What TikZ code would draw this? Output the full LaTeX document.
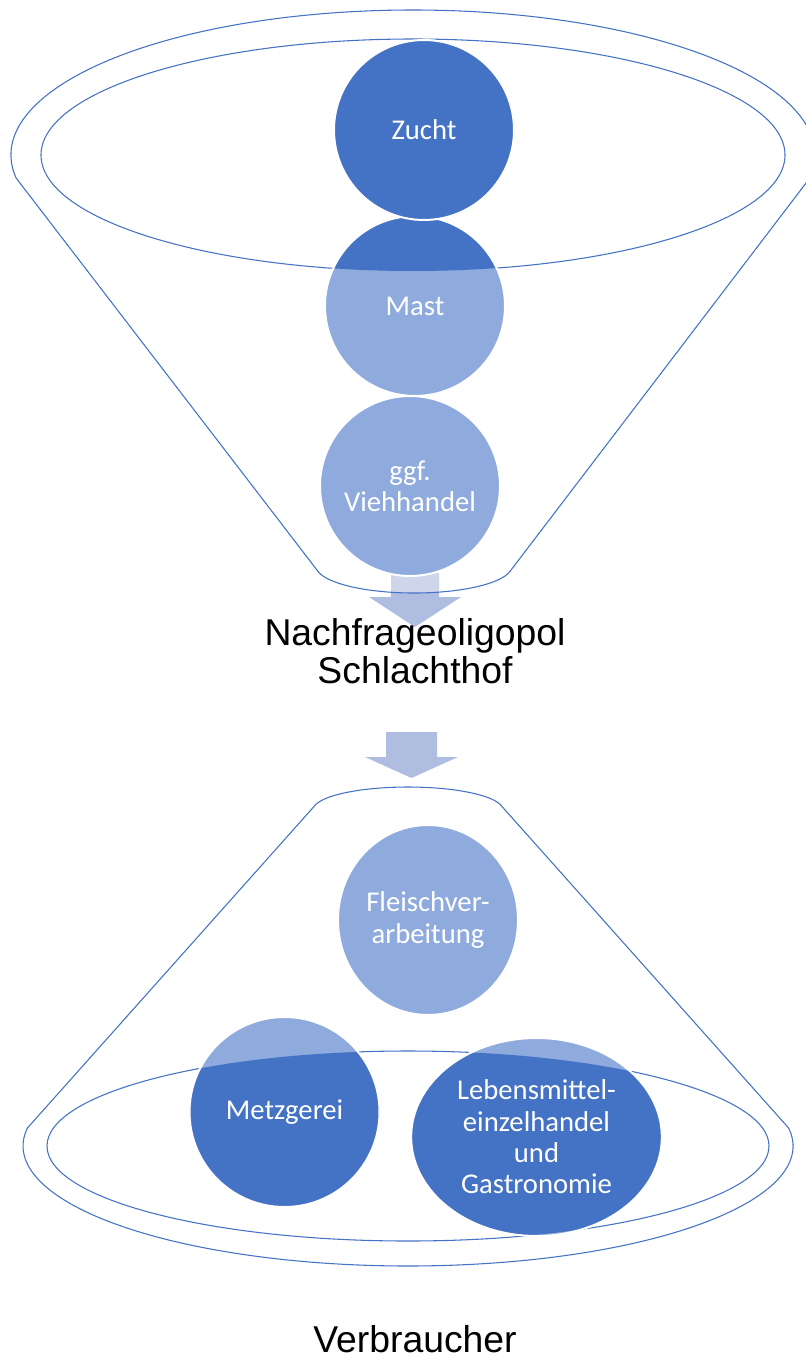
\documentclass[tikz,border=0pt]{standalone}
\usepackage{fontspec}
\setmainfont{Liberation Sans}
\newfontfamily\carlito{Carlito}
\usetikzlibrary{shapes.geometric}

\definecolor{accent}{HTML}{4472C4}
\definecolor{accentlight}{HTML}{8FAADC}
\definecolor{flow}{HTML}{AFBEE0}
\definecolor{flowpale}{HTML}{CFD6EB}

\begin{document}
\begin{tikzpicture}[x=0.75pt, y=-0.75pt,
	rim/.style={draw=accent, line width=0.8pt},
	stage/.style={circle, fill=accentlight, draw=white, line width=1.5pt, text=white,
		font=\carlito\fontsize{21.5}{23.5}\selectfont, align=center, inner sep=0pt, minimum size=135pt},
	toprim/.style={path picture={\fill[accent] (ctop) ellipse[x radius=372, y radius=116];}},
	lowrim/.style={path picture={\fill[accent] (clow) ellipse[x radius=361, y radius=95];}},
	title/.style={font=\fontsize{28}{28.5}\selectfont, align=center, inner sep=0pt}]
	\useasboundingbox (0,0) rectangle (806,1366);
	\fill[white] (0,0) rectangle (806,1366);

	\coordinate (ctop) at (413,155);
	\coordinate (clow) at (408,1146);

	% arrows
	\fill[flow] (391,573) -- (439,573) -- (439,597) -- (461,597) -- (415,627) -- (369,597) -- (391,597) -- cycle;
	\begin{scope}
		\clip (414,566) ellipse[x radius=98, y radius=27];
		\fill[flowpale] (391,573) rectangle (439,597);
	\end{scope}
	\fill[flow] (386,732) -- (437,732) -- (437,757) -- (458,757) -- (411.5,778) -- (365,757) -- (386,757) -- cycle;

	% funnels
	\draw[rim] (16.06,177.93) arc[start angle=170.9, end angle=369.1, x radius=402, y radius=145]
		-- (510.51,570.69) arc[start angle=10, end angle=170, x radius=98, y radius=27] -- cycle;
	\draw[rim] (ctop) ellipse[x radius=372, y radius=116];
	\draw[rim] (314.44,806.01) arc[start angle=190, end angle=350, x radius=95, y radius=23]
		-- (788.67,1128.06) arc[start angle=-8.6, end angle=188.6, x radius=385, y radius=120] -- cycle;
	\draw[rim] (clow) ellipse[x radius=361, y radius=95];

	\node[stage] (vieh) at (410,486) {ggf.\\Viehhandel};
	\node[stage, toprim] (mast) at (415,306) {Mast};
	\node[stage, toprim] (zucht) at (424,130) {Zucht};

	\node[title] (hof) at (415,651) {Nachfrageoligopol\\Schlachthof};

	\node[stage, ellipse, minimum width=135pt, minimum height=142.5pt] (fleisch) at (428,920) {Fleischver-\\arbeitung};
	\node[stage, lowrim, minimum size=142.5pt] (metz) at (284.5,1112) {Metzgerei};
	\node[stage, lowrim, ellipse, minimum width=188pt, minimum height=148.5pt] (handel) at (536.5,1137) {Lebensmittel-\\einzelhandel\\und\\Gastronomie};

	\node[title] (verb) at (415,1339) {Verbraucher};
\end{tikzpicture}
\end{document}
